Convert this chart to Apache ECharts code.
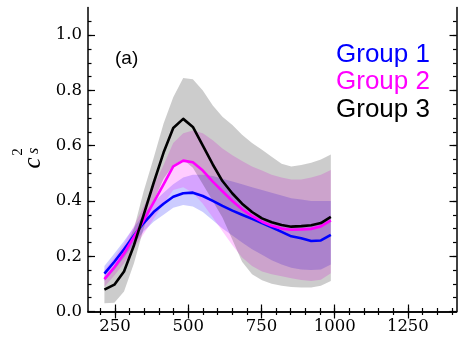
<!DOCTYPE html>
<html>
<head>
<meta charset="utf-8">
<script src="https://cdn.jsdelivr.net/npm/echarts@6/dist/echarts.min.js"></script>
<style>html,body{margin:0;padding:0;background:#fff;}#chart{width:458px;height:339px;}</style>
</head>
<body>
<div id="chart"></div>
<script>
// ---- data ----
const xVals = [214, 248, 281, 315, 348, 382, 416, 449, 483, 516, 550, 584, 617, 651, 684, 718, 752, 785, 819, 852, 886, 920, 953, 987];

const g1Mean = [0.137,0.180,0.225,0.275,0.320,0.360,0.390,0.415,0.428,0.430,0.418,0.400,0.382,0.365,0.350,0.335,0.320,0.305,0.288,0.272,0.265,0.255,0.257,0.277];
const g1Low  = [0.110,0.150,0.195,0.245,0.290,0.325,0.350,0.375,0.385,0.380,0.360,0.330,0.300,0.275,0.250,0.225,0.205,0.185,0.170,0.158,0.152,0.150,0.152,0.170];
const g1High = [0.165,0.210,0.255,0.305,0.350,0.395,0.430,0.460,0.485,0.495,0.495,0.490,0.480,0.470,0.460,0.450,0.440,0.430,0.420,0.410,0.405,0.400,0.400,0.400];

const g2Mean = [0.117,0.160,0.210,0.270,0.330,0.395,0.460,0.525,0.546,0.540,0.510,0.470,0.435,0.400,0.370,0.345,0.325,0.310,0.300,0.296,0.297,0.299,0.308,0.330];
const g2Low  = [0.090,0.130,0.175,0.230,0.280,0.335,0.390,0.440,0.450,0.430,0.390,0.340,0.290,0.240,0.195,0.165,0.145,0.135,0.128,0.120,0.114,0.110,0.115,0.138];
const g2High = [0.150,0.195,0.245,0.310,0.380,0.455,0.530,0.610,0.645,0.655,0.645,0.620,0.590,0.565,0.545,0.525,0.510,0.495,0.485,0.478,0.478,0.485,0.495,0.512];

const g3Mean = [0.079,0.097,0.145,0.240,0.350,0.465,0.575,0.664,0.697,0.668,0.600,0.532,0.472,0.427,0.390,0.360,0.337,0.323,0.313,0.307,0.309,0.312,0.320,0.342];
const g3Low  = [0.030,0.032,0.072,0.175,0.300,0.400,0.480,0.530,0.550,0.520,0.460,0.400,0.340,0.260,0.180,0.135,0.113,0.100,0.093,0.089,0.087,0.087,0.093,0.110];
const g3High = [0.125,0.160,0.220,0.300,0.435,0.555,0.680,0.775,0.845,0.840,0.800,0.745,0.705,0.675,0.640,0.610,0.585,0.560,0.535,0.525,0.530,0.538,0.550,0.568];

const groupNames = ['Group 1', 'Group 2', 'Group 3'];
const xMajorTicks = [250, 500, 750, 1000, 1250];
const xMinorTicks = [200,250,300,350,400,450,500,550,600,650,700,750,800,850,900,950,1000,1050,1100,1150,1200,1250,1300,1350,1400];
const yMajorTicks = [0.0, 0.2, 0.4, 0.6, 0.8, 1.0];
const yMinorTicks = [0.05,0.1,0.15,0.2,0.25,0.3,0.35,0.4,0.45,0.5,0.55,0.6,0.65,0.7,0.75,0.8,0.85,0.9,0.95,1.0,1.05];
const panelLabel = '(a)';

// ---- chart ----
const colors = ['#0000ff', '#ff00ff', '#000000'];
const bandFills = ['rgba(0,0,255,0.2)', 'rgba(255,0,255,0.2)', 'rgba(0,0,0,0.2)'];
const means = [g1Mean, g2Mean, g3Mean];
const lows = [g1Low, g2Low, g3Low];
const highs = [g1High, g2High, g3High];

const X_MIN = 158, X_MAX = 1416, Y_MIN = 0, Y_MAX = 1.1;
const serif = 'DejaVu Serif';

function xAx(pos, major) {
  return {
    type: 'value', min: X_MIN, max: X_MAX, position: pos,
    axisLine: { show: major, lineStyle: { color: '#000', width: 1.5 } },
    axisTick: { show: true, inside: true, length: major ? 7 : 3.5,
      customValues: major ? xMajorTicks : xMinorTicks,
      lineStyle: { color: '#000', width: 1.2 } },
    axisLabel: { show: major && pos === 'bottom', customValues: xMajorTicks,
      formatter: v => String(Math.round(v)),
      fontFamily: serif, fontSize: 16.5, color: '#000', margin: 7 },
    splitLine: { show: false }
  };
}
function yAx(pos, major) {
  return {
    type: 'value', min: Y_MIN, max: Y_MAX, position: pos,
    axisLine: { show: major, lineStyle: { color: '#000', width: 1.5 } },
    axisTick: { show: true, inside: true, length: major ? 7 : 3.5,
      customValues: major ? yMajorTicks : yMinorTicks,
      lineStyle: { color: '#000', width: 1.2 } },
    axisLabel: { show: major && pos === 'left', customValues: yMajorTicks,
      formatter: v => Number(v).toFixed(1),
      fontFamily: serif, fontSize: 16.5, color: '#000', margin: 6 },
    splitLine: { show: false }
  };
}

const series = [];
for (let g = 0; g < 3; g++) {
  const lo = lows[g], hi = highs[g], fill = bandFills[g];
  series.push({
    type: 'custom', name: groupNames[g] + ' band', silent: true,
    xAxisIndex: 0, yAxisIndex: 0,
    data: xVals.map((x, i) => [x, lo[i], hi[i]]),
    encode: { x: 0, y: [1, 2] },
    renderItem: function (params, api) {
      if (params.dataIndex !== 0) return null;
      const pts = [];
      for (let i = 0; i < xVals.length; i++) pts.push(api.coord([xVals[i], hi[i]]));
      for (let i = xVals.length - 1; i >= 0; i--) pts.push(api.coord([xVals[i], lo[i]]));
      return { type: 'polygon', shape: { points: pts }, style: { fill: fill, stroke: null } };
    }
  });
}
for (let g = 0; g < 3; g++) {
  series.push({
    type: 'line', name: groupNames[g], xAxisIndex: 0, yAxisIndex: 0,
    data: xVals.map((x, i) => [x, means[g][i]]),
    showSymbol: false, symbol: 'none', silent: true,
    lineStyle: { color: colors[g], width: 2.6, join: 'round' },
    z: 5
  });
}

const chart = echarts.init(document.getElementById('chart'), null, { renderer: 'canvas' });
chart.setOption({
  animation: false,
  backgroundColor: '#fff',
  grid: { left: 88, right: 1.5, top: 7.5, bottom: 27.5, containLabel: false },
  xAxis: [xAx('bottom', true), xAx('bottom', false), xAx('top', true), xAx('top', false)],
  yAxis: [yAx('left', true), yAx('left', false), yAx('right', true), yAx('right', false)],
  series: series,
  graphic: [
    { type: 'text', left: 115, top: 49, style: { text: panelLabel, fontFamily: 'Liberation Sans', fontSize: 19, fill: '#000' } },
    { type: 'text', x: 336, y: 55, style: { text: groupNames[0], fontFamily: 'Liberation Sans', fontSize: 26, fill: colors[0], verticalAlign: 'middle' } },
    { type: 'text', x: 336, y: 82, style: { text: groupNames[1], fontFamily: 'Liberation Sans', fontSize: 26, fill: colors[1], verticalAlign: 'middle' } },
    { type: 'text', x: 336, y: 110, style: { text: groupNames[2], fontFamily: 'Liberation Sans', fontSize: 26, fill: colors[2], verticalAlign: 'middle' } },
    { type: 'text', x: 33, y: 163, rotation: Math.PI / 2, style: { text: 'c', fontFamily: 'Liberation Serif', fontStyle: 'italic', fontSize: 25, fill: '#000', align: 'center', verticalAlign: 'middle' } },
    { type: 'text', x: 18, y: 152, rotation: Math.PI / 2, style: { text: '2', fontFamily: 'Liberation Serif', fontSize: 15, fill: '#000', align: 'center', verticalAlign: 'middle' } },
    { type: 'text', x: 34, y: 151, rotation: Math.PI / 2, style: { text: 's', fontFamily: 'Liberation Serif', fontStyle: 'italic', fontSize: 16, fill: '#000', align: 'center', verticalAlign: 'middle' } }
  ]
});
</script>
</body>
</html>
